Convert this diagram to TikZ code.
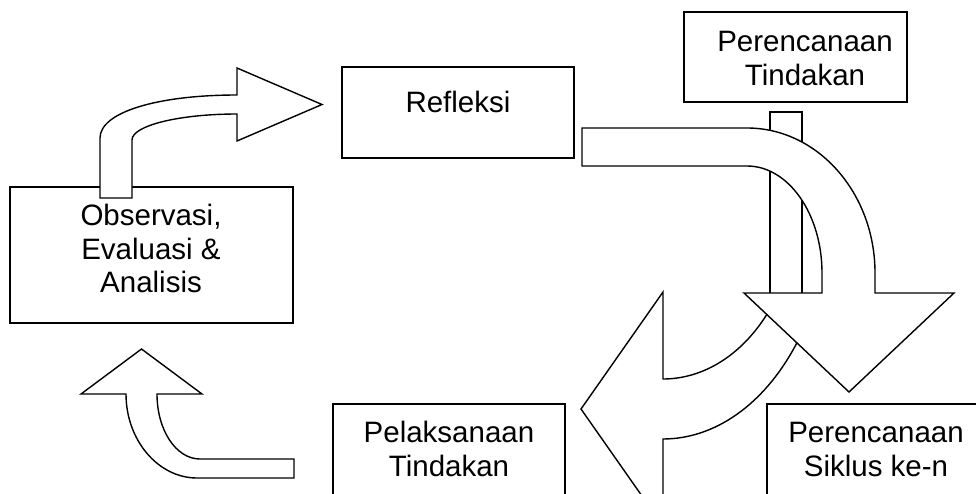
\documentclass[tikz,border=0pt]{standalone}
\usepackage{fontspec}
\setmainfont{Liberation Sans}
\begin{document}
\begin{tikzpicture}[x=1pt,y=-1pt,
  box/.style={draw=black, fill=white, line width=1.4pt, inner sep=0pt, outer sep=0pt},
  blockarrow/.style={draw=black, fill=white, line width=1.4pt, line join=miter},
  lbl/.style={inner sep=0pt, align=center, font=\fontsize{29.5}{33.8}\selectfont}]
\useasboundingbox (0,0) rectangle (976,493);
\clip (0,0) rectangle (976,493);
% boxes behind the big arrows
\node[box, minimum width=223pt, minimum height=90pt] (pt) at (795.5,57) {};
\node[box, minimum width=32pt, minimum height=188pt] (stem) at (786,206) {};
% left U-turn arrow (partly hidden)
\path[blockarrow] (581,409) -- (663,292) -- (663,379)
  -- plot[domain=90:34, samples=40, variable=\t] ({663+135*cos(\t)},{200+179*sin(\t)})
  -- (813,305)
  -- plot[domain=26:90, samples=40, variable=\t] ({663+167*cos(\t)},{200+239*sin(\t)})
  -- (663,526) -- cycle;
% big curved arrow right-down
\path[blockarrow] (582,128) -- (747,128)
  .. controls (817.7,128) and (875,193) .. (875,273)
  -- (875,293) -- (954,293) -- (849,392) -- (744,293) -- (822,293) -- (822,273)
  .. controls (822,214) and (788.4,166) .. (747,166)
  -- (582,166) -- cycle;
% other boxes
\node[box, minimum width=232pt, minimum height=91pt] (refl) at (458,112.5) {};
\node[box, minimum width=233pt, minimum height=116pt] (sik) at (883.5,462) {};
\node[box, minimum width=232pt, minimum height=116pt] (pel) at (449,462) {};
\node[box, minimum width=283pt, minimum height=136pt] (obs) at (151.5,255) {};
% top-left arrow
\path[blockarrow] (100,198) -- (100,138)
  .. controls (100,112) and (158,95) .. (237,95)
  -- (237,68) -- (322,104.5) -- (237,141) -- (237,114)
  .. controls (179,114) and (132,125.6) .. (132,140)
  -- (132,198) -- cycle;
% bottom-left arrow
\path[blockarrow] (141.5,349) -- (202,394) -- (157,394)
  .. controls (157,430) and (176,459) .. (200,459)
  -- (294,459) -- (294,478) -- (197,478)
  .. controls (158,478) and (126,440) .. (126,394)
  -- (81,394) -- cycle;
% labels
\node[lbl] (tpt) at (805,58.3) {Perencanaan\\Tindakan};
\node[lbl] (trefl) at (458,102) {Refleksi};
\node[lbl] (tobs) at (151,248.5) {Observasi,\\Evaluasi \&\\Analisis};
\node[lbl] (tpel) at (449,449) {Pelaksanaan\\Tindakan};
\node[lbl] (tsik) at (876,449.5) {Perencanaan\\Siklus ke-n};
\end{tikzpicture}
\end{document}
